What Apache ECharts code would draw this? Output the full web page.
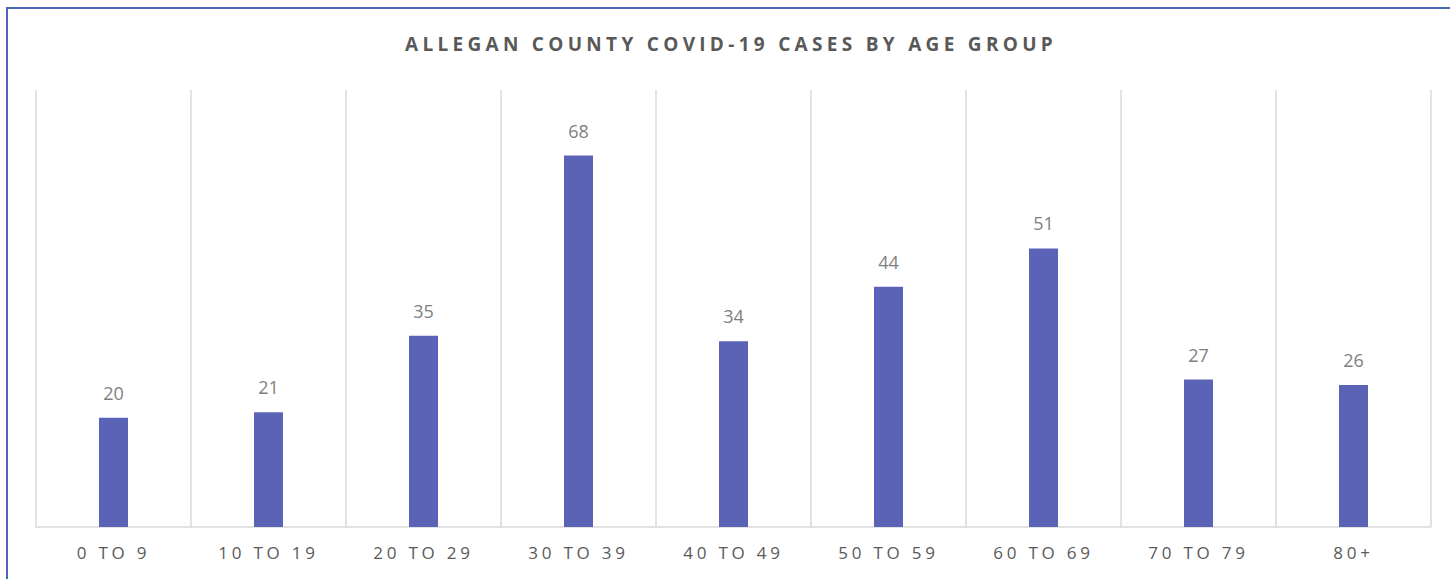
<!DOCTYPE html>
<html>
<head>
<meta charset="utf-8">
<script src="https://cdn.jsdelivr.net/npm/echarts@6/dist/echarts.min.js"></script>
<style>
  html, body { margin: 0; padding: 0; background: #fff; overflow: hidden; }
  #frame { position: absolute; left: 6px; top: 7px; width: 1460px; height: 600px;
           border-top: 2px solid #4a6ab5; border-left: 2px solid #4a6ab5; }
  #chart { position: absolute; left: 0; top: 0; width: 1450px; height: 579px; }
</style>
</head>
<body>
<div id="frame"></div>
<div id="chart"></div>
<script>
const titleText = 'ALLEGAN COUNTY COVID-19 CASES BY AGE GROUP';
const categories = ['0 TO 9', '10 TO 19', '20 TO 29', '30 TO 39', '40 TO 49', '50 TO 59', '60 TO 69', '70 TO 79', '80+'];
const cases = [20, 21, 35, 68, 34, 44, 51, 27, 26];

const chart = echarts.init(document.getElementById('chart'), null, { renderer: 'svg' });
chart.setOption({
  animation: false,
  backgroundColor: 'transparent',
  title: {
    text: titleText,
    left: 405,
    top: 34,
    padding: 0,
    textAlign: 'left',
    textStyle: { fontFamily: 'Open Sans', fontWeight: 'bold', fontSize: 19, color: '#595959' }
  },
  grid: { left: 36, right: 19, top: 90, bottom: 52, containLabel: false },
  xAxis: {
    type: 'category',
    data: categories,
    axisLine: { lineStyle: { color: '#d9d9d9', width: 1.5 } },
    axisTick: { show: false },
    splitLine: { show: true, lineStyle: { color: '#d9d9d9', width: 1.5 } },
    axisLabel: { fontFamily: 'Open Sans', fontSize: 17, color: '#595959', margin: 17 }
  },
  yAxis: {
    type: 'value',
    min: 0,
    max: 80,
    show: false,
    splitLine: { show: false }
  },
  series: [{
    type: 'bar',
    data: cases,
    barWidth: 29,
    itemStyle: { color: '#5b63b6' },
    label: { show: true, position: 'top', distance: 16, fontFamily: 'Open Sans', fontSize: 18, color: '#7f7f7f' }
  }]
});

function spaceText() {
  document.querySelectorAll('#chart svg text').forEach(t => {
    const s = t.textContent;
    if (s === titleText) t.style.letterSpacing = '4.3px';
    else if (categories.indexOf(s) >= 0) t.style.letterSpacing = '3.8px';
  });
}
spaceText();
chart.on('finished', spaceText);
</script>
</body>
</html>
